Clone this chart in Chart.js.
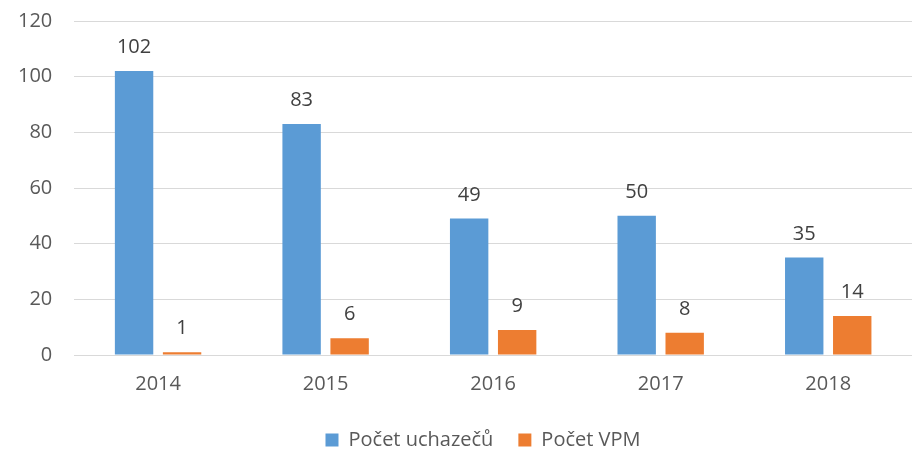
<!DOCTYPE html>
<html><head><meta charset="utf-8">
<script src="https://cdn.jsdelivr.net/npm/chart.js@4"></script>
<style>html,body{margin:0;padding:0;background:#fff}#w{width:912px;height:451px}</style>
</head><body><div id="w"><canvas id="c"></canvas></div>
<script>
const categories = ["2014","2015","2016","2017","2018"];
const uchazeci = [102,83,49,50,35];
const vpm = [1,6,9,8,14];
const seriesNames = ["Počet uchazečů","Počet VPM"];
const FONT = "'Open Sans', 'Liberation Sans', sans-serif";
const labelPlugin = {
  id:'labels',
  afterLayout(chart){
    if (chart.legend) { chart.legend.left += 20; chart.legend.right += 20; }
  },
  afterDatasetsDraw(chart){
    const ctx = chart.ctx;
    ctx.save();
    ctx.font = "20px " + FONT;
    ctx.fillStyle = "#404040";
    ctx.textAlign = "center";
    ctx.textBaseline = "alphabetic";
    chart.data.datasets.forEach((ds,i)=>{
      chart.getDatasetMeta(i).data.forEach((bar,j)=>{
        ctx.fillText(String(ds.data[j]), bar.x, bar.y - 18);
      });
    });
    ctx.restore();
  }
};
new Chart(document.getElementById('c'),{
  type:'bar',
  data:{labels:categories,datasets:[
    {label:seriesNames[0],data:uchazeci,backgroundColor:'#5B9BD5',categoryPercentage:0.573,barPercentage:0.8},
    {label:seriesNames[1],data:vpm,backgroundColor:'#ED7D31',categoryPercentage:0.573,barPercentage:0.8}
  ]},
  options:{
    responsive:true,maintainAspectRatio:false,animation:false,
    layout:{padding:{top:0,right:-18,left:-4,bottom:-9}},
    plugins:{
      legend:{position:'bottom',labels:{font:{family:FONT,size:20},color:'#595959',boxWidth:13,boxHeight:13,padding:25}},
      tooltip:{enabled:false}
    },
    scales:{
      x:{grid:{display:false},border:{color:'#d9d9d9'},ticks:{font:{family:FONT,size:20},color:'#595959',padding:9}},
      y:{min:0,max:120,ticks:{stepSize:20,font:{family:FONT,size:20},color:'#595959',padding:22},
         grid:{color:'#d9d9d9',drawTicks:false},border:{display:false},
         afterFit(s){ s.paddingTop = 21; s.paddingBottom = 0; }}
    }
  },
  plugins:[labelPlugin]
});
</script></body></html>
